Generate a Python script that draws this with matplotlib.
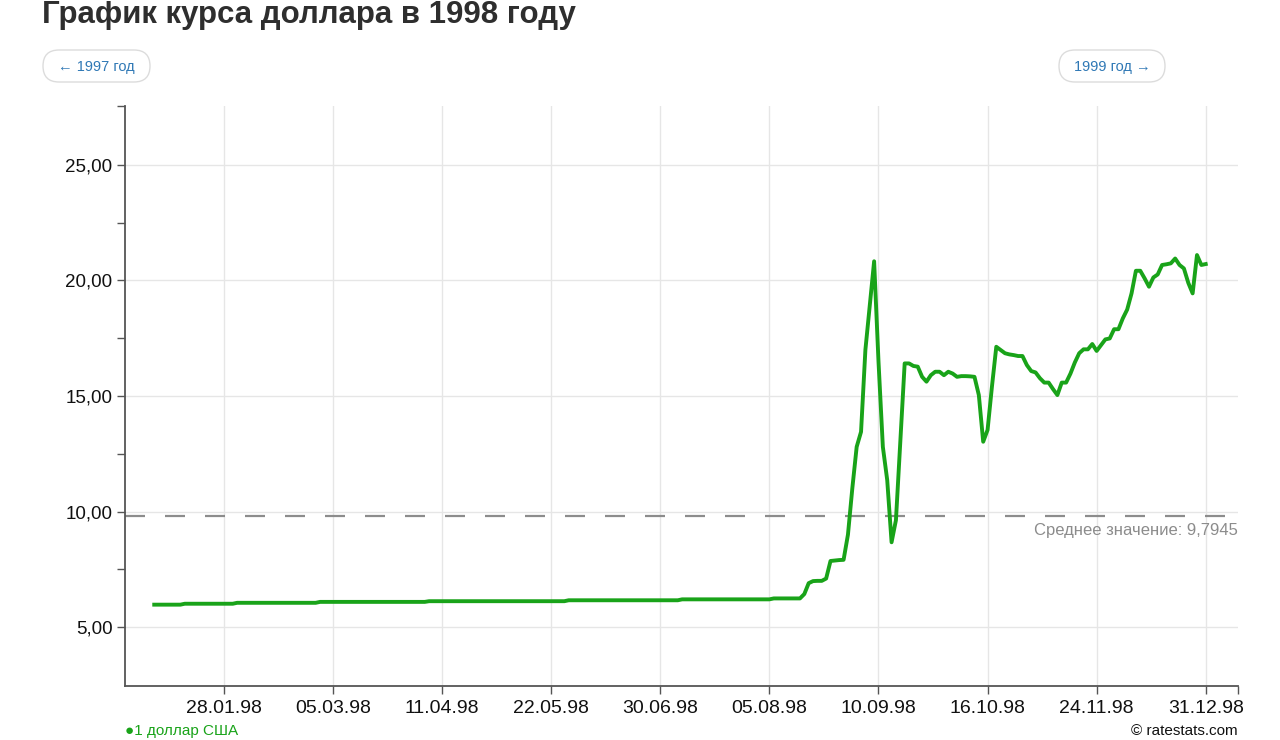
import matplotlib
matplotlib.use("Agg")
import matplotlib.pyplot as plt
from matplotlib.patches import FancyBboxPatch
from matplotlib.transforms import IdentityTransform
from matplotlib.ticker import FuncFormatter

plt.rcParams['font.family'] = ['Liberation Sans', 'DejaVu Sans']

# курс USD/RUB 1998, по точкам (торговые дни)
usd_rate = (
    [5.97] * 7 + [6.01] * 12 + [6.05] * 19 + [6.09] * 25 + [6.12] * 32
    + [6.16] * 26 + [6.20] * 21 + [6.24] * 7
    + [6.43, 6.90, 6.99, 7.00, 7.00, 7.10, 7.86, 7.88, 7.90, 7.91,
       9.00, 11.00, 12.80, 13.45, 17.00, 18.90, 20.83, 16.50, 12.80, 11.36,
       8.67, 9.63, 13.00, 16.41, 16.41, 16.30, 16.27, 15.83, 15.62, 15.90,
       16.05, 16.05, 15.90, 16.05, 15.97, 15.83, 15.86, 15.86, 15.85, 15.83,
       15.04, 13.02, 13.53, 15.40, 17.13, 16.99, 16.85, 16.80, 16.77, 16.73,
       16.73, 16.34, 16.08, 16.02, 15.77, 15.58, 15.58, 15.30, 15.04, 15.58,
       15.58, 15.97, 16.45, 16.85, 17.02, 17.02, 17.25, 16.95, 17.20, 17.45,
       17.49, 17.89, 17.89, 18.36, 18.74, 19.44, 20.42, 20.42, 20.09, 19.73,
       20.13, 20.26, 20.67, 20.70, 20.74, 20.95, 20.67, 20.52, 19.90, 19.44,
       21.10, 20.67, 20.71]
)
mean_rate = 9.7945

tick_idx = [16, 41, 66, 91, 116, 141, 166, 191, 216, 241]
tick_labels = ['28.01.98', '05.03.98', '11.04.98', '22.05.98', '30.06.98',
               '05.08.98', '10.09.98', '16.10.98', '24.11.98', '31.12.98']
y_major = [5, 10, 15, 20, 25]
y_minor = [7.5, 12.5, 17.5, 22.5]

fig = plt.figure(figsize=(12.8, 7.4), dpi=100, facecolor='white')
ax = fig.add_axes([125 / 1280, 1 - 686 / 740, (1238 - 125) / 1280, (686 - 106) / 740])

xs = list(range(len(usd_rate)))
ax.plot(xs, usd_rate, color='#19a319', lw=2.8, solid_joinstyle='round', zorder=3)
ax.axhline(mean_rate, color='#8c8c8c', lw=1.6, dashes=(9, 9), zorder=2)
ax.text(1.0, mean_rate - 0.3, 'Среднее значение: 9,7945', transform=ax.get_yaxis_transform(),
        ha='right', va='top', fontsize=12, color='#8c8c8c')

ax.set_xlim(-6.7, 248.4)
ax.set_ylim(2.45, 27.55)

ax.set_xticks(tick_idx)
ax.set_xticklabels(tick_labels)
ax.set_xticks([248.4], minor=True)
ax.set_yticks(y_major)
ax.set_yticks(y_minor + [27.55], minor=True)
ax.yaxis.set_major_formatter(FuncFormatter(lambda v, p: f'{v:.2f}'.replace('.', ',')))

ax.grid(True, which='major', color='#e6e6e6', lw=1)
ax.set_axisbelow(True)
for s in ['top', 'right']:
    ax.spines[s].set_visible(False)
for s in ['left', 'bottom']:
    ax.spines[s].set_color('#555555')
    ax.spines[s].set_linewidth(1.3)
ax.tick_params(which='both', direction='out', length=6, width=1, color='#555555',
               labelsize=14, labelcolor='#111111')
ax.tick_params(axis='x', pad=4)
ax.tick_params(axis='y', pad=3, labelsize=13.5)

fig.text(42 / 1280, 1 - 15 / 740, 'График курса доллара в 1998 году', ha='left', va='center',
         fontsize=22.5, fontweight='bold', color='#2e2e2e')

# кнопки
for x0, x1, label in [(43, 150, '← 1997 год'), (1059, 1165, '1999 год →')]:
    box = FancyBboxPatch((x0, 740 - 82), x1 - x0, 32, boxstyle='round,pad=0,rounding_size=16',
                         transform=IdentityTransform(), facecolor='white',
                         edgecolor='#dcdcdc', lw=1)
    fig.patches.append(box)
    fig.text((x0 + x1) / 2 / 1280, 1 - 67 / 740, label, ha='center', va='center',
             fontsize=10.5, color='#2f78b5')

# подписи внизу
fig.text(125 / 1280, 1 - 738 / 740, '●1 доллар США', ha='left', va='bottom', fontsize=11,
         color='#19a319')
fig.text(1238 / 1280, 1 - 738 / 740, '© ratestats.com', ha='right', va='bottom', fontsize=11,
         color='#111111')

fig.savefig('out.png', dpi=100, facecolor='white')
